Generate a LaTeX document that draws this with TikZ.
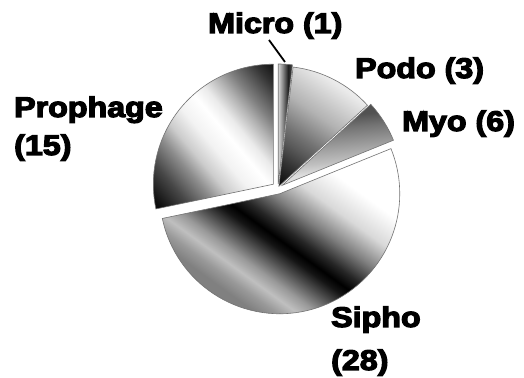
\documentclass[tikz,border=0pt]{standalone}
\usepackage{fontspec}
\usepackage{graphicx}
\usetikzlibrary{calc}
\newfontfamily\labfont{Liberation Sans Bold}[FakeBold=4]
\newcommand\pielab[1]{\scalebox{1.13}[1]{#1}}

\pgfdeclarehorizontalshading{siphoS}{100bp}{color(0bp)=(black!50); color(31bp)=(black!50); color(34bp)=(black!40); color(37bp)=(black!25); color(40bp)=(black!40); color(44bp)=(black!70); color(47bp)=(black!92); color(49bp)=(black); color(52bp)=(black!85); color(57bp)=(black!50); color(63bp)=(black!15); color(70bp)=(white); color(100bp)=(white)}
\pgfdeclarehorizontalshading{prophS}{100bp}{color(0bp)=(black); color(18bp)=(black!95); color(27bp)=(black!72); color(35bp)=(black!45); color(41bp)=(black!20); color(48bp)=(black!5); color(55bp)=(white); color(60bp)=(black!8); color(66bp)=(black!30); color(71bp)=(black!50); color(80bp)=(black!80); color(86bp)=(black!95); color(100bp)=(black)}
\pgfdeclarehorizontalshading{podoS}{100bp}{color(0bp)=(black); color(16bp)=(black!95); color(26bp)=(black!80); color(34bp)=(black!65); color(40bp)=(black!55); color(53bp)=(black!30); color(57bp)=(black!25); color(70bp)=(black!8); color(100bp)=(black!5)}
\pgfdeclarehorizontalshading{myoS}{100bp}{color(0bp)=(black!10); color(34bp)=(black!13); color(40bp)=(black!25); color(50bp)=(black!40); color(60bp)=(black!55); color(67bp)=(black!68); color(100bp)=(black!70)}
\pgfdeclarehorizontalshading{microS}{100bp}{color(0bp)=(black!15); color(25bp)=(black!15); color(40bp)=(black!45); color(60bp)=(black!88); color(75bp)=(black!70); color(100bp)=(black!70)}

\tikzset{
  slice/.style={draw=black!55, line width=0.6pt},
  lab/.style={anchor=base west, inner sep=0pt, font=\labfont\fontsize{28.5}{34}\selectfont},
  pointer/.style={draw=black, line width=1.8pt}
}

\begin{document}
\begin{tikzpicture}[x=1pt, y=1pt]
\useasboundingbox (0,0) rectangle (524,377);
\fill[white] (0,0) rectangle (524,377);
\coordinate (C) at (278,189);
\def\R{120pt}

% Micro
\coordinate (aMicro) at ($(C)+(86.6:4)$);
\path[slice, shading=microS, shading angle=0]
  (aMicro) -- ++(83.21:\R) arc[start angle=83.21, end angle=90, radius=\R] -- cycle;
% Podo
\coordinate (aPodo) at ($(C)+(62.8:2)$);
\path[slice, shading=podoS, shading angle=55]
  (aPodo) -- ++(42.45:\R) arc[start angle=42.45, end angle=83.21, radius=\R] -- cycle;
% Myo
\coordinate (aMyo) at ($(C)+(32.3:5)$);
\path[slice, shading=myoS, shading angle=96]
  (aMyo) -- ++(22.08:\R) arc[start angle=22.08, end angle=42.45, radius=\R] -- cycle;
% Sipho
\coordinate (aSipho) at ($(C)+(-73:6)$);
\path[slice, shading=siphoS, shading angle=54]
  (aSipho) -- ++(-168.11:\R) arc[start angle=-168.11, end angle=22.08, radius=\R] -- cycle;
% Prophage
\coordinate (aProph) at ($(C)+(140.9:6)$);
\path[slice, shading=prophS, shading angle=40]
  (aProph) -- ++(90:\R) arc[start angle=90, end angle=191.89, radius=\R] -- cycle;

% labels
\node[lab] (lMicro) at (208,344) {\pielab{Micro (1)}};
\node[lab] (lPodo) at (355,299) {\pielab{Podo (3)}};
\node[lab] (lMyo) at (402,246) {\pielab{Myo (6)}};
\node[lab] (lProph) at (14,260) {\pielab{Prophage}};
\node[lab] (lProphN) at (14,222) {\pielab{(15)}};
\node[lab] (lSipho) at (331,50) {\pielab{Sipho}};
\node[lab] (lSiphoN) at (331,7) {\pielab{(28)}};

% pointer
\coordinate (pTail) at (269,337);
\coordinate (pTip) at (285,315);
\draw[pointer] (pTail) -- (pTip);
\end{tikzpicture}
\end{document}
